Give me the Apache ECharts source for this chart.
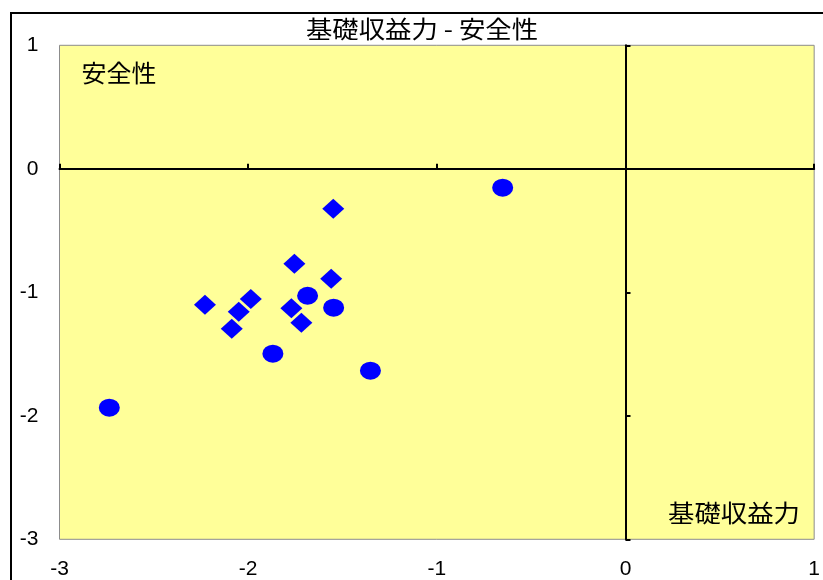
<!DOCTYPE html>
<html>
<head>
<meta charset="utf-8">
<script src="https://cdn.jsdelivr.net/npm/echarts@6/dist/echarts.min.js"></script>
<style>
html,body{margin:0;padding:0;background:#fff;}
#c{width:823px;height:580px;}
</style>
</head>
<body>
<div id="c"></div>
<script>
// Data
var titleText = '基礎収益力 - 安全性';
var xAxisName = '基礎収益力';
var yAxisName = '安全性';
var axisMin = -3;
var axisMax = 1;
var tickStep = 1;

var diamondPoints = [
  [-1.549, -0.323],
  [-1.755, -0.768],
  [-1.560, -0.890],
  [-2.229, -1.100],
  [-1.986, -1.054],
  [-2.050, -1.157],
  [-1.771, -1.130],
  [-2.087, -1.295],
  [-1.718, -1.246]
];
var circlePoints = [
  [-1.685, -1.028],
  [-1.547, -1.125],
  [-1.869, -1.497],
  [-1.352, -1.635],
  [-2.736, -1.934],
  [-0.651, -0.153]
];

var chart = echarts.init(document.getElementById('c'), null, {renderer: 'canvas'});
var cjkFont = '"Noto Sans CJK JP", "Noto Sans CJK SC", sans-serif';
var numFont = '"Liberation Sans", Arial, sans-serif';

var option = {
  animation: false,
  backgroundColor: '#ffffff',
  grid: {
    left: 59.5, top: 45.3, right: 4, bottom: 40.7,
    show: true,
    backgroundColor: '#FFFF99',
    borderColor: '#8c8c8c',
    borderWidth: 1
  },
  xAxis: [
    {
      type: 'value', min: axisMin, max: axisMax, interval: tickStep,
      position: 'bottom',
      axisLine: {show: false, onZero: false},
      axisTick: {show: false},
      splitLine: {show: false},
      axisLabel: {color: '#000', fontSize: 21, fontFamily: numFont, margin: 19}
    },
    {
      type: 'value', min: axisMin, max: axisMax, interval: tickStep,
      position: 'top',
      axisLine: {show: true, onZero: true, onZeroAxisIndex: 0, lineStyle: {color: '#000', width: 2}},
      axisTick: {show: true, inside: false, length: 5, lineStyle: {color: '#000', width: 2}},
      splitLine: {show: false},
      axisLabel: {show: false}
    }
  ],
  yAxis: [
    {
      type: 'value', min: axisMin, max: axisMax, interval: tickStep,
      position: 'left',
      axisLine: {show: false, onZero: false},
      axisTick: {show: false},
      splitLine: {show: false},
      axisLabel: {color: '#000', fontSize: 21, fontFamily: numFont, margin: 21}
    },
    {
      type: 'value', min: axisMin, max: axisMax, interval: tickStep,
      position: 'right',
      axisLine: {show: true, onZero: true, onZeroAxisIndex: 0, lineStyle: {color: '#000', width: 2}},
      axisTick: {show: true, inside: false, length: 5, lineStyle: {color: '#000', width: 2}},
      splitLine: {show: false},
      axisLabel: {show: false}
    }
  ],
  series: [
    {
      type: 'scatter', xAxisIndex: 0, yAxisIndex: 0,
      symbol: 'diamond', symbolSize: [22, 20],
      itemStyle: {color: '#0000FF', opacity: 1},
      data: diamondPoints, z: 3
    },
    {
      type: 'scatter', xAxisIndex: 0, yAxisIndex: 0,
      symbol: 'circle', symbolSize: [21, 18],
      itemStyle: {color: '#0000FF', opacity: 1},
      data: circlePoints, z: 4
    }
  ],
  graphic: [
    {
      type: 'rect', z: 100, silent: true,
      shape: {x: 11, y: 13, width: 1000, height: 800},
      style: {fill: 'none', stroke: '#000', lineWidth: 2}
    },
    {
      type: 'text', x: 422, y: 28.5, scaleX: 1.1, z: 100,
      style: {text: titleText, font: '24px ' + cjkFont, fill: '#000', textAlign: 'center', textVerticalAlign: 'middle'}
    },
    {
      type: 'text', x: 119, y: 73.3, scaleX: 1.04, z: 100,
      style: {text: yAxisName, font: '24px ' + cjkFont, fill: '#000', textAlign: 'center', textVerticalAlign: 'middle'}
    },
    {
      type: 'text', x: 734, y: 513, scaleX: 1.1, z: 100,
      style: {text: xAxisName, font: '24px ' + cjkFont, fill: '#000', textAlign: 'center', textVerticalAlign: 'middle'}
    }
  ]
};
chart.setOption(option);
</script>
</body>
</html>
